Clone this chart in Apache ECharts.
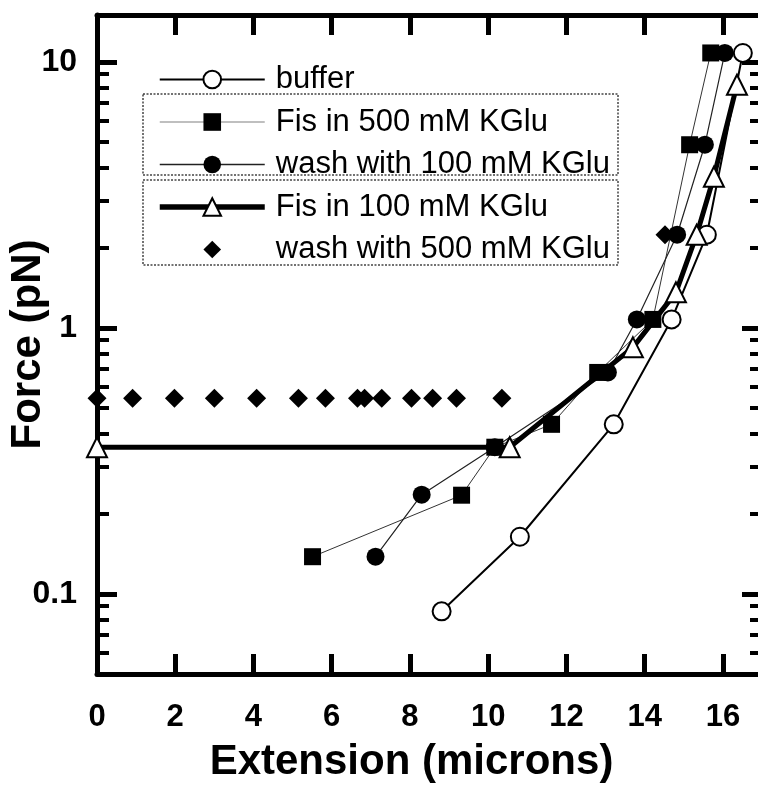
<!DOCTYPE html>
<html>
<head>
<meta charset="utf-8">
<script src="https://cdn.jsdelivr.net/npm/echarts@6/dist/echarts.min.js"></script>
<style>
  html, body { margin: 0; padding: 0; background: #fff; }
  #main { width: 758px; height: 785px; }
</style>
</head>
<body>
<div id="main"></div>
<script>
// values: extension (microns) and force (pN)
const bufferX = [8.81, 10.81, 13.21, 14.69, 15.59, 16.51]
const bufferF = [0.086, 0.164, 0.434, 1.076, 2.24, 10.8]

const fis500X = [5.51, 9.32, 10.17, 11.62, 12.8, 14.21, 15.15, 15.69]
const fis500F = [0.138, 0.235, 0.356, 0.434, 0.68, 1.076, 4.88, 10.8]

const wash100X = [7.12, 8.3, 10.17, 13.06, 13.8, 14.83, 15.54, 16.05]
const wash100F = [0.138, 0.236, 0.356, 0.68, 1.076, 2.24, 4.88, 10.8]

const fis100X = [0, 10.55, 13.7, 14.8, 15.33, 15.77, 16.36]
const fis100F = [0.356, 0.356, 0.845, 1.36, 2.24, 3.7, 8.2]

const wash500X = [0, 0.91, 1.98, 3.0, 4.08, 5.15, 5.84, 6.66, 6.84, 7.28, 8.04, 8.58, 9.19, 10.35, 14.52]
const wash500F = [0.544, 0.544, 0.544, 0.544, 0.544, 0.544, 0.544, 0.544, 0.544, 0.544, 0.544, 0.544, 0.544, 0.544, 2.24]

const seriesNames = ['buffer', 'Fis in 500 mM KGlu', 'wash with 100 mM KGlu', 'Fis in 100 mM KGlu', 'wash with 500 mM KGlu']
const yMajor = [0.1, 1, 10]
const yMinor = [0.06, 0.07, 0.08, 0.09, 0.2, 0.3, 0.4, 0.5, 0.6, 0.7, 0.8, 0.9, 2, 3, 4, 5, 6, 7, 8, 9]

const FONT = 'Liberation Sans, Arial, sans-serif'

function pairs(xs, ys) {
  return xs.map((x, i) => [x, ys[i]])
}

const chartDom = document.getElementById('main')
const myChart = echarts.init(chartDom)

const black = '#000'

function xAxisOf(position, showLabel) {
  return {
    type: 'value',
    position: position,
    min: 0,
    max: 17,
    interval: 2,
    splitLine: { show: false },
    axisLine: { lineStyle: { color: black, width: 5 } },
    axisTick: { inside: true, length: 20, lineStyle: { color: black, width: 5 } },
    axisLabel: {
      show: showLabel,
      showMaxLabel: false,
      margin: 28,
      color: black,
      fontSize: 31,
      fontWeight: 'bold',
      fontFamily: FONT
    }
  }
}

function yAxisOf(position, ticks, tickLen, tickWidth, showLabel, showLine) {
  return {
    type: 'log',
    logBase: 10,
    position: position,
    min: 0.05,
    max: 15,
    splitLine: { show: false },
    minorTick: { show: false },
    axisLine: { show: showLine, lineStyle: { color: black, width: 5 } },
    axisTick: {
      inside: true,
      length: tickLen,
      customValues: ticks,
      lineStyle: { color: black, width: tickWidth }
    },
    axisLabel: {
      show: showLabel,
      customValues: yMajor,
      margin: 20,
      color: black,
      fontSize: 32,
      fontWeight: 'bold',
      fontFamily: FONT,
      formatter: function (v) {
        return yMajor.some(m => Math.abs(v - m) < m * 1e-6) ? String(v) : ''
      }
    }
  }
}

const bottomX = xAxisOf('bottom', true)
bottomX.name = 'Extension (microns)'
bottomX.nameLocation = 'middle'
bottomX.nameGap = 67
bottomX.nameMoveOverlap = false
bottomX.nameTextStyle = { color: black, fontSize: 42, fontWeight: 'bold', fontFamily: FONT, padding: [0, 36, 0, 0] }

const leftY = yAxisOf('left', yMajor, 20, 5, true, true)
leftY.name = 'Force (pN)'
leftY.nameLocation = 'middle'
leftY.nameGap = 48
leftY.nameMoveOverlap = false
leftY.nameTextStyle = { color: black, fontSize: 42, fontWeight: 'bold', fontFamily: FONT }

var option = {
  animation: false,
  backgroundColor: '#fff',
  grid: { left: 97, top: 15, right: -4, bottom: 111, containLabel: false, outerBoundsMode: 'none' },
  xAxis: [bottomX, xAxisOf('top', false)],
  yAxis: [
    leftY,
    yAxisOf('left', yMinor, 12, 4, false, false),
    yAxisOf('right', yMajor, 20, 5, false, true),
    yAxisOf('right', yMinor, 12, 4, false, false)
  ],
  legend: {
    orient: 'vertical',
    left: 152,
    top: 59,
    itemWidth: 105,
    itemHeight: 22,
    itemGap: 11.5,
    selectedMode: false,
    textStyle: { color: black, fontSize: 31, fontFamily: FONT, padding: [0, 0, 0, 6] },
    data: [
      { name: seriesNames[0], lineStyle: { color: black, width: 2 } },
      { name: seriesNames[1], lineStyle: { color: '#aaa', width: 1.5 } },
      { name: seriesNames[2], lineStyle: { color: '#222', width: 1.5 } },
      { name: seriesNames[3], lineStyle: { color: black, width: 5.5 } },
      { name: seriesNames[4], lineStyle: { width: 0, opacity: 0 } }
    ]
  },
  graphic: [
    {
      type: 'rect',
      shape: { x: 143, y: 94, width: 475, height: 81 },
      style: { fill: 'none', stroke: '#444', lineWidth: 1.5, lineDash: [2, 1.5] }
    },
    {
      type: 'rect',
      shape: { x: 143, y: 180, width: 475, height: 85 },
      style: { fill: 'none', stroke: '#444', lineWidth: 1.5, lineDash: [2, 1.5] }
    }
  ],
  series: [
    {
      name: seriesNames[0],
      type: 'line',
      data: pairs(bufferX, bufferF),
      symbol: 'circle',
      symbolSize: 18,
      itemStyle: { color: '#fff', borderColor: black, borderWidth: 2 },
      lineStyle: { color: black, width: 2 }
    },
    {
      name: seriesNames[1],
      type: 'line',
      data: pairs(fis500X, fis500F),
      symbol: 'rect',
      symbolSize: 17,
      itemStyle: { color: black },
      lineStyle: { color: '#333', width: 1 }
    },
    {
      name: seriesNames[2],
      type: 'line',
      data: pairs(wash100X, wash100F),
      symbol: 'circle',
      symbolSize: 18,
      itemStyle: { color: black },
      lineStyle: { color: '#222', width: 1.2 }
    },
    {
      name: seriesNames[3],
      type: 'line',
      data: pairs(fis100X, fis100F),
      symbol: 'triangle',
      symbolSize: 20,
      itemStyle: { color: '#fff', borderColor: black, borderWidth: 2 },
      lineStyle: { color: black, width: 5 }
    },
    {
      name: seriesNames[4],
      type: 'line',
      data: pairs(wash500X, wash500F),
      symbol: 'diamond',
      symbolSize: 19,
      itemStyle: { color: black },
      lineStyle: { width: 0, opacity: 0 }
    }
  ]
}

option && myChart.setOption(option)
</script>
</body>
</html>
